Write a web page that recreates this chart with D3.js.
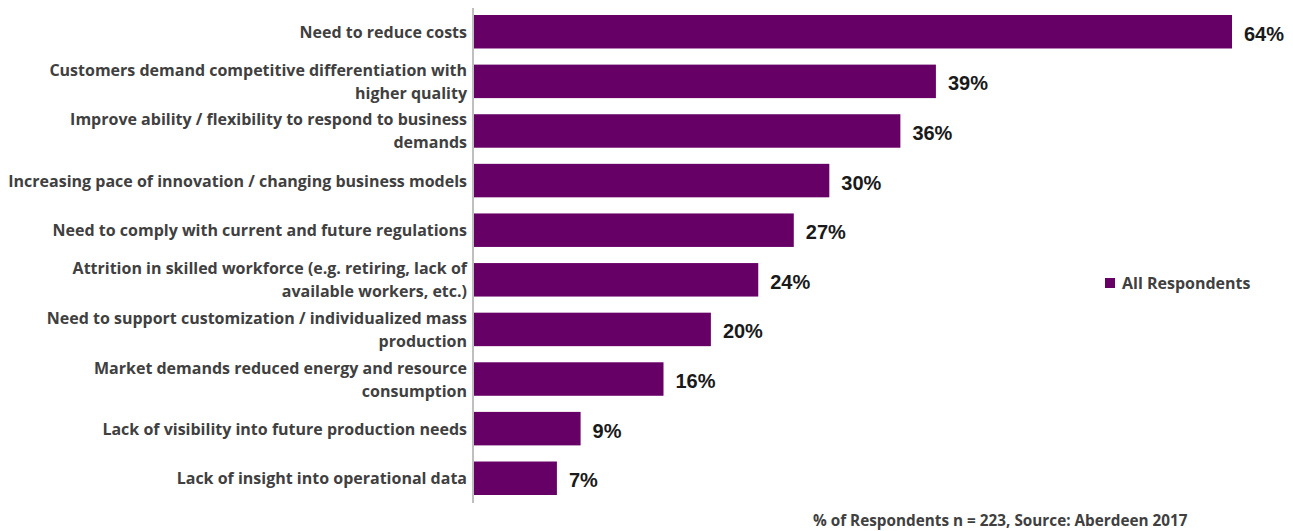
<!DOCTYPE html>
<html>
<head>
<meta charset="utf-8">
<script src="https://cdn.jsdelivr.net/npm/d3@7"></script>
<style>
  body { margin: 0; background: #fff; }
  .label { font-family: "Open Sans", Lato, sans-serif; font-weight: bold; fill: #404040; }
  .value { font-family: "Liberation Sans", Arial, sans-serif; font-weight: bold; fill: #1a1a1a; }
</style>
</head>
<body>
<div id="chart"></div>
<script>
// chart data
var categories = [
  ["Need to reduce costs"],
  ["Customers demand competitive differentiation with", "higher quality"],
  ["Improve ability / flexibility to respond to business", "demands"],
  ["Increasing pace of innovation / changing business models"],
  ["Need to comply with current and future regulations"],
  ["Attrition in skilled workforce (e.g. retiring, lack of", "available workers, etc.)"],
  ["Need to support customization / individualized mass", "production"],
  ["Market demands reduced energy and resource", "consumption"],
  ["Lack of visibility into future production needs"],
  ["Lack of insight into operational data"]
];
var values = [64, 39, 36, 30, 27, 24, 20, 16, 9, 7];
var seriesName = "All Respondents";
var footnote = "% of Respondents n = 223, Source: Aberdeen 2017";

var svgWidth = 1293;
var svgHeight = 531;
var barColor = "#660066";

var svg = d3.select("#chart")
  .append("svg")
  .attr("width", svgWidth)
  .attr("height", svgHeight);

// scales
var xScale = d3.scaleLinear()
  .domain([0, 64])
  .range([474, 1232]);

var yScale = d3.scaleBand()
  .domain(d3.range(values.length))
  .range([15, 495])
  .paddingInner(0.325)
  .paddingOuter(0);

// bars
svg.selectAll("rect.bar")
  .data(values)
  .enter()
  .append("rect")
  .attr("class", "bar")
  .attr("x", xScale(0))
  .attr("y", (d, i) => yScale(i))
  .attr("width", d => xScale(d) - xScale(0))
  .attr("height", yScale.bandwidth())
  .attr("fill", barColor);

// vertical axis line
svg.append("line")
  .attr("x1", 473).attr("x2", 473)
  .attr("y1", 8).attr("y2", 503)
  .attr("stroke", "#bfbfbf")
  .attr("stroke-width", 2);

// category labels
var lineH = 23;
var labelGroups = svg.selectAll("text.label")
  .data(categories)
  .enter()
  .append("text")
  .attr("class", "label")
  .attr("font-size", 16)
  .attr("text-anchor", "end");

labelGroups.each(function(lines, i) {
  var cy = yScale(i) + yScale.bandwidth() / 2;
  var t = d3.select(this);
  lines.forEach(function(line, j) {
    t.append("tspan")
      .attr("x", 467)
      .attr("y", cy + 6 + (j - (lines.length - 1) / 2) * lineH)
      .text(line);
  });
});

// value labels
svg.selectAll("text.value")
  .data(values)
  .enter()
  .append("text")
  .attr("class", "value")
  .attr("font-size", 20)
  .attr("x", d => xScale(d) + 12)
  .attr("y", (d, i) => yScale(i) + yScale.bandwidth() / 2 + 9)
  .text(d => d + "%");

// legend
svg.append("rect")
  .attr("x", 1105).attr("y", 278)
  .attr("width", 10).attr("height", 10)
  .attr("fill", barColor);

svg.append("text")
  .attr("class", "label")
  .attr("font-size", 16)
  .attr("x", 1122)
  .attr("y", 289)
  .text(seriesName);

// footnote
svg.append("text")
  .attr("class", "label")
  .attr("font-size", 15.3)
  .attr("x", 813)
  .attr("y", 526)
  .text(footnote);
</script>
</body>
</html>
